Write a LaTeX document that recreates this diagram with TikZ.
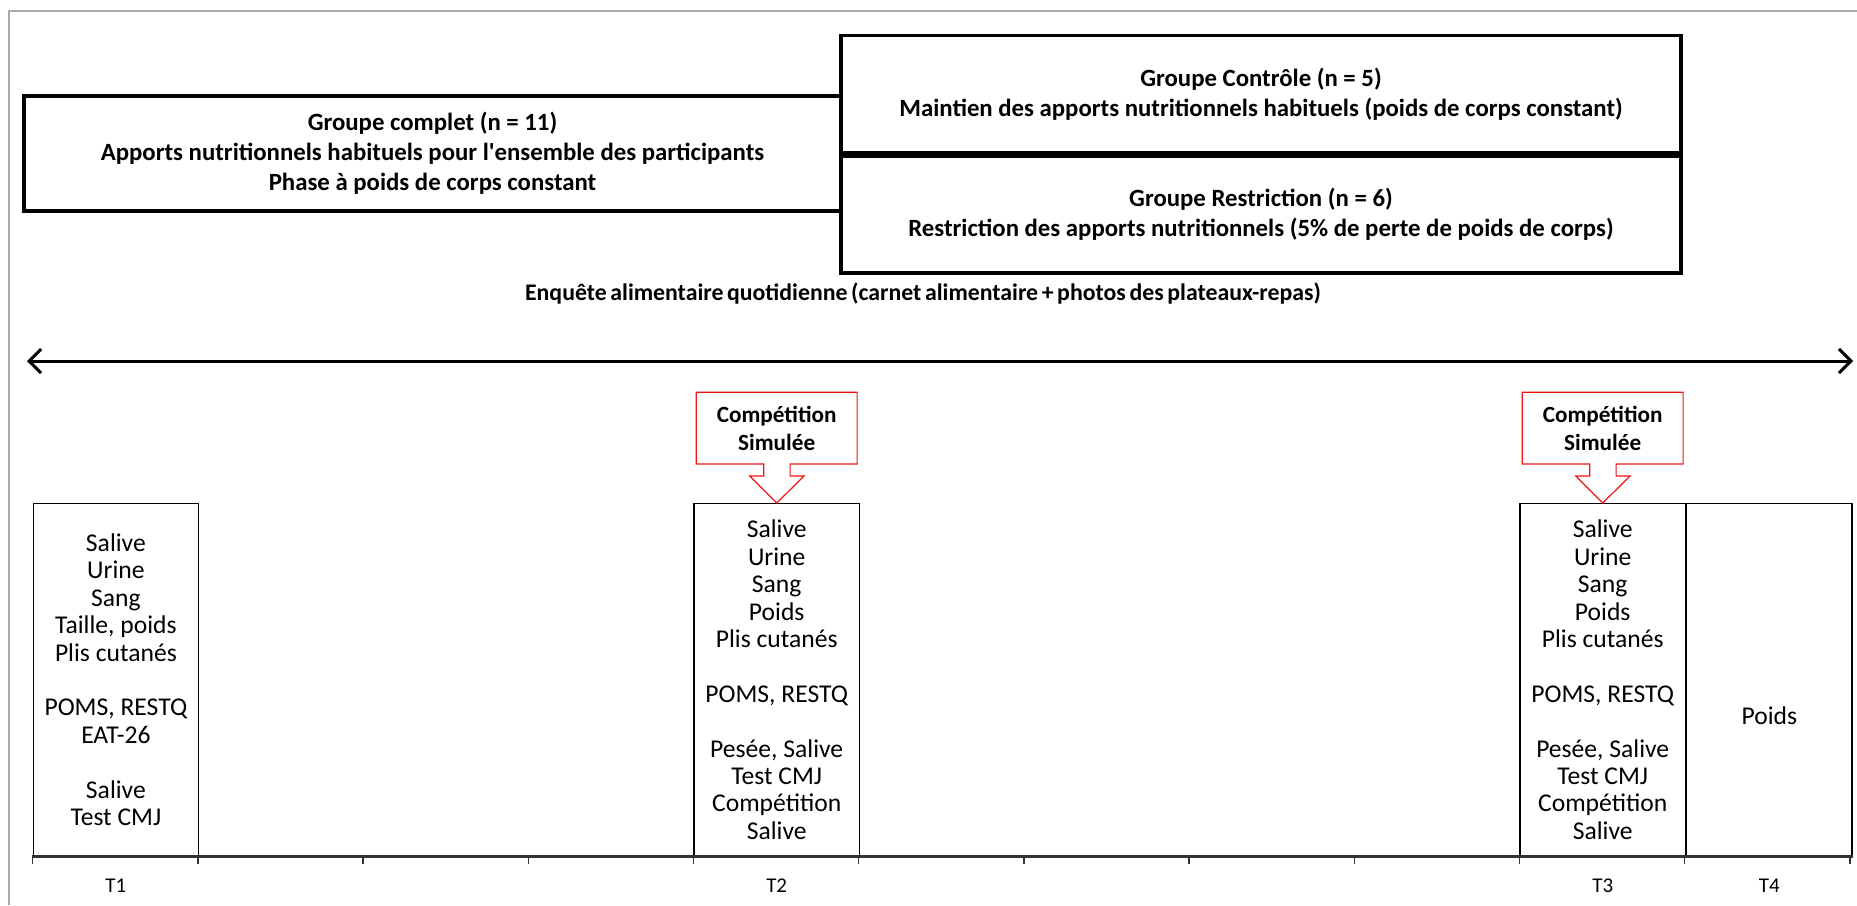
\documentclass[tikz,border=0pt]{standalone}
\usepackage{fontspec}
\setmainfont{Carlito}
\usetikzlibrary{positioning,arrows.meta}
\definecolor{framegray}{RGB}{170, 170, 170}
\definecolor{callred}{RGB}{240, 20, 20}
\newcommand{\tightwords}{\spaceskip=1.8pt plus 1pt\relax}
\tikzstyle{groupbox} = [rectangle, draw, line width=1.8pt, align=center,
    inner sep=0pt, font=\bfseries\fontsize{12.4}{15}\selectfont]
\tikzstyle{colbox} = [rectangle, draw, line width=0.7pt, anchor=north west,
    minimum width=82.6pt, minimum height=176pt, inner sep=0pt, align=center,
    font=\fontsize{12.8}{13.7}\selectfont]
\tikzstyle{compbox} = [rectangle, minimum width=80pt, minimum height=35.5pt,
    inner sep=0pt, align=center, font=\bfseries\fontsize{11.6}{14}\selectfont]
\tikzstyle{callout} = [draw=callred, line width=0.6pt, line join=miter]
\tikzstyle{note} = [font=\bfseries\fontsize{11.9}{14}\selectfont\tightwords]
\tikzstyle{tlabel} = [font=\fontsize{10.5}{12}\selectfont]
\tikzstyle{axis} = [draw=black!80, line width=1.2pt]
\tikzstyle{line} = [draw, line width=1.5pt,
    {Straight Barb[length=6pt,width=12pt]}-{Straight Barb[length=6pt,width=12pt]}]

\begin{document}
\begin{tikzpicture}[x=0.5pt, y=-0.5pt]
  \useasboundingbox (0,0) rectangle (1857,905);
  \draw [framegray, line width=0.6pt] (9,905) -- (9,11) -- (1857,11);
  % groupes
  \node [groupbox, minimum width=408.5pt, minimum height=57.5pt] (complet) at (432.5,153.5)
    {Groupe complet (n = 11)\\Apports nutritionnels habituels pour l\textquotesingle ensemble des participants\\Phase à poids de corps constant};
  \node [groupbox, minimum width=420pt, minimum height=58.5pt] (controle) at (1261,94)
    {Groupe Contrôle (n = 5)\\Maintien des apports nutritionnels habituels (poids de corps constant)};
  \node [groupbox, minimum width=420pt, minimum height=58.5pt, below=0pt of controle] (restriction)
    {Groupe Restriction (n = 6)\\Restriction des apports nutritionnels (5\% de perte de poids de corps)};
  % enquete
  \node [note] (enquete) at (923,294) {Enquête alimentaire quotidienne (carnet alimentaire + photos des plateaux-repas)};
  \coordinate (survL) at (27,361);
  \coordinate (survR) at (1853,361);
  \path [line] (survL) -- (survR);
  % temps de mesure
  \node [colbox] (colA) at (32.6,503) {Salive\\Urine\\Sang\\Taille, poids\\Plis cutanés\\[13.7pt]POMS, RESTQ\\EAT-26\\[13.7pt]Salive\\Test CMJ};
  \node [colbox] (colB) at (693.4,503) {Salive\\Urine\\Sang\\Poids\\Plis cutanés\\[13.7pt]POMS, RESTQ\\[13.7pt]Pesée, Salive\\Test CMJ\\Compétition\\Salive};
  \node [colbox] (colC) at (1519.4,503) {Salive\\Urine\\Sang\\Poids\\Plis cutanés\\[13.7pt]POMS, RESTQ\\[13.7pt]Pesée, Salive\\Test CMJ\\Compétition\\Salive};
  \node [colbox, right=0pt of colC] (colD) {};
  \node [font=\fontsize{12.8}{13.7}\selectfont] (poidsD) at ([yshift=-18pt]colD.center) {Poids};
  % competitions simulees
  \node [compbox, above=19.5pt of colB] (compB) {Compétition\\Simulée};
  \node [compbox, above=19.5pt of colC] (compC) {Compétition\\Simulée};
  \draw [callout] (compB.south west) -- (compB.north west) -- (compB.north east) -- (compB.south east)
    -- ++(-67,0) -- ++(0,12) -- ++(14,0) -- (colB.north) -- ++(-27,-27) -- ++(14,0) -- ++(0,-12) -- cycle;
  \draw [callout] (compC.south west) -- (compC.north west) -- (compC.north east) -- (compC.south east)
    -- ++(-67,0) -- ++(0,12) -- ++(14,0) -- (colC.north) -- ++(-27,-27) -- ++(14,0) -- ++(0,-12) -- cycle;
  % axe
  \draw [axis] (colA.south west) -- (colD.south east);
  \foreach \k in {0,...,11}
    \draw [draw=black!80, line width=0.7pt] ({32.6+165.2*\k},855) -- ++(0,9);
  \node [tlabel] (labA) at ([yshift=-14.5pt]colA.south) {T1};
  \node [tlabel] (labB) at ([yshift=-14.5pt]colB.south) {T2};
  \node [tlabel] (labC) at ([yshift=-14.5pt]colC.south) {T3};
  \node [tlabel] (labD) at ([yshift=-14.5pt]colD.south) {T4};
\end{tikzpicture}
\end{document}
